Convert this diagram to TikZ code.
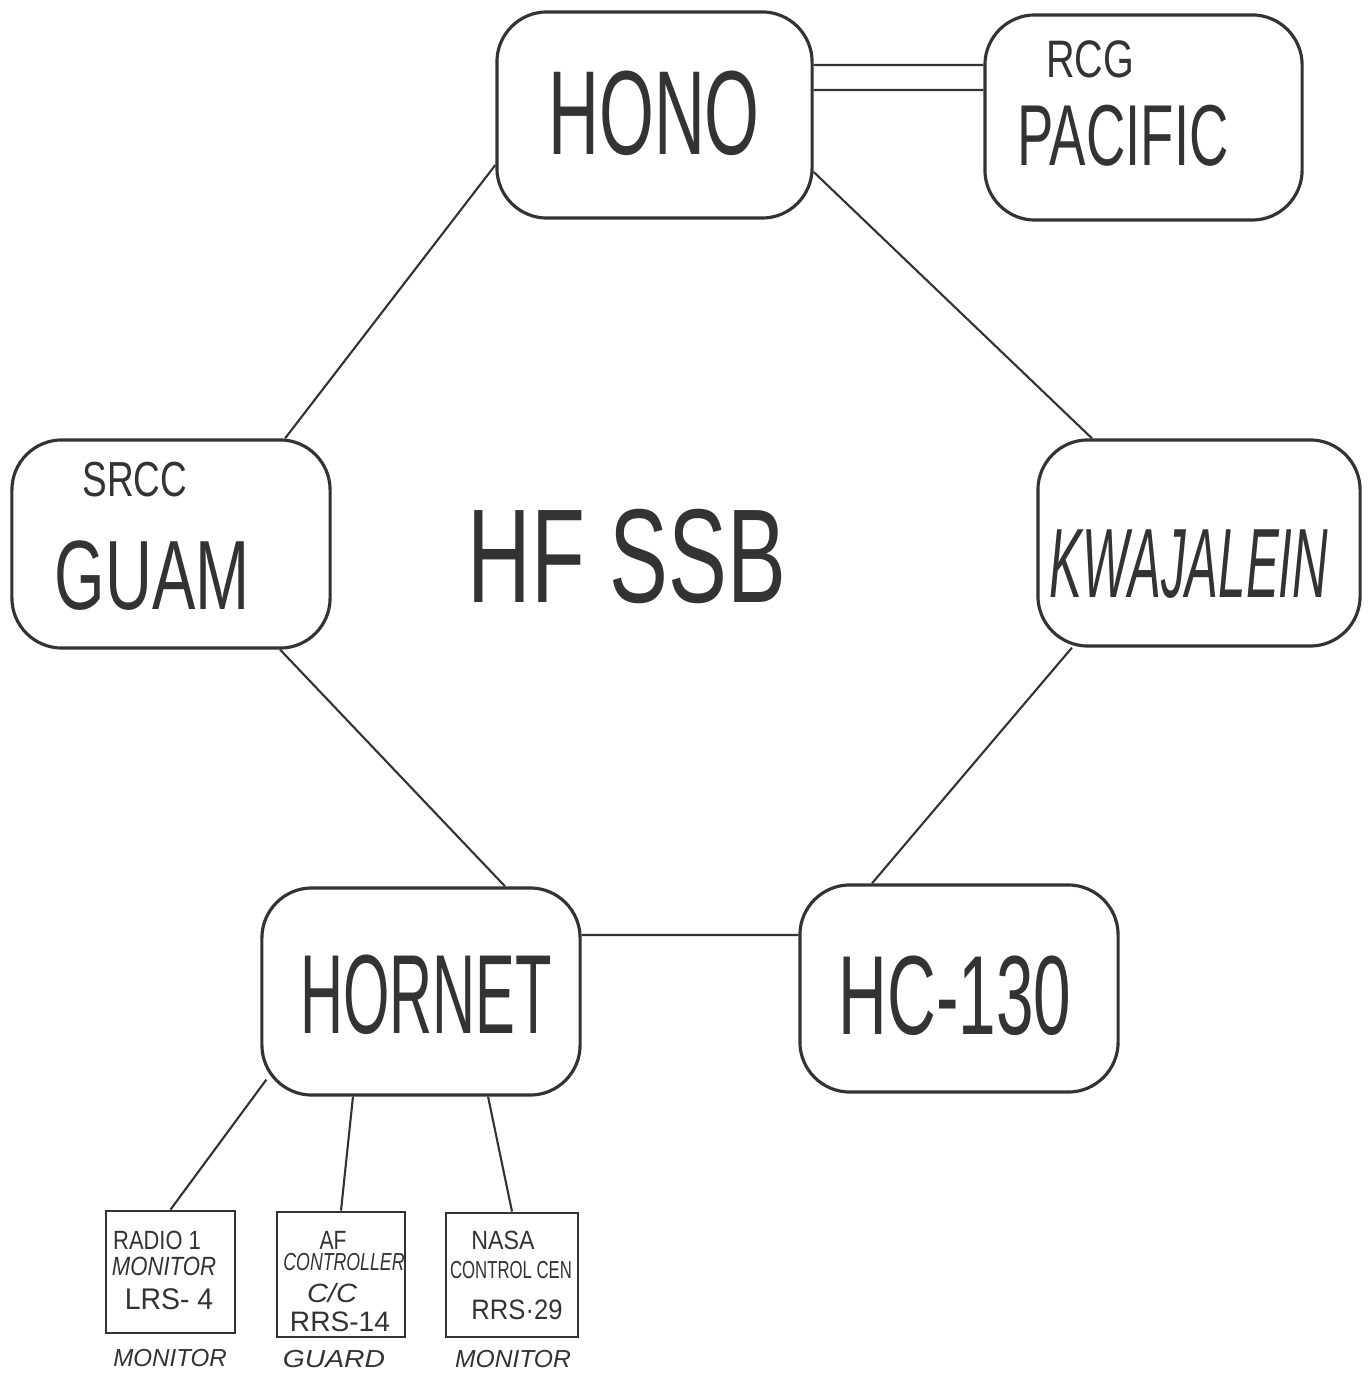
\documentclass[tikz,border=0pt]{standalone}
\usepackage{fontspec}
\usepackage{graphicx}
\setmainfont{Liberation Sans}
\definecolor{ink}{HTML}{333333}
\newcommand\hw[3]{\scalebox{#1}[1]{\fontsize{#2}{#2}\selectfont #3}}
\newcommand\hwi[3]{\scalebox{#1}[1]{\fontsize{#2}{#2}\selectfont\itshape #3}}
\begin{document}
\begin{tikzpicture}[x=0.01cm,y=-0.01cm,
  station/.style={draw=ink,line width=0.9pt,rounded corners=0.5cm,inner sep=0pt},
  unit/.style={draw=ink,line width=0.8pt,inner sep=0pt},
  link/.style={draw=ink,line width=0.6pt},
  txt/.style={inner sep=0pt,text=ink}]
\useasboundingbox[fill=white] (0,0) rectangle (1371,1374);
% stations
\node[station,minimum width=3.15cm,minimum height=2.06cm] (hono) at (654.5,115) {};
\node[station,minimum width=3.17cm,minimum height=2.05cm] (rcg) at (1143.5,117.5) {};
\node[station,minimum width=3.18cm,minimum height=2.08cm] (guam) at (171,544) {};
\node[station,minimum width=3.22cm,minimum height=2.06cm] (kwaj) at (1199,543) {};
\node[station,minimum width=3.18cm,minimum height=2.07cm] (hornet) at (421,991.5) {};
\node[station,minimum width=3.18cm,minimum height=2.07cm] (hc) at (959,988.5) {};
% units
\node[unit,minimum width=1.29cm,minimum height=1.22cm] (radio) at (170.5,1272) {};
\node[unit,minimum width=1.28cm,minimum height=1.25cm] (af) at (341,1274.5) {};
\node[unit,minimum width=1.32cm,minimum height=1.24cm] (nasa) at (512,1275) {};
% station texts
\node[txt] (t-hono) at (654,113) {\hw{0.59}{34}{HONO}};
\node[txt] (t-rcg) at (1090,59) {\hw{0.75}{15}{RCG}};
\node[txt] (t-pac) at (1123,136) {\hw{0.63}{24.6}{PACIFIC}};
\node[txt] (t-srcc) at (135,480) {\hw{0.75}{14}{SRCC}};
\node[txt] (t-guam) at (152,576) {\hw{0.66}{28}{GUAM}};
\node[txt] (t-kwaj) at (1189,564) {\hwi{0.5}{28}{KWAJALEIN}};
\node[txt] (t-hf) at (627,557) {\hw{0.66}{38}{HF SSB}};
\node[txt] (t-hornet) at (426,995) {\hw{0.53}{32}{HORNET}};
\node[txt] (t-hc) at (955,996) {\hw{0.6}{32}{HC-130}};
% unit texts
\node[txt] (r1) at (157,1240) {\hw{0.83}{7.5}{RADIO 1}};
\node[txt] (r2) at (164,1266) {\hwi{0.84}{7.5}{MONITOR}};
\node[txt] (r3) at (169,1299) {\hw{0.95}{8.5}{LRS- 4}};
\node[txt] (a1) at (333,1240) {\hw{0.8}{7.5}{AF}};
\node[txt] (a2) at (344,1262) {\hwi{0.72}{7}{CONTROLLER}};
\node[txt] (a3) at (332,1293) {\hwi{1.1}{7.5}{C/C}};
\node[txt] (a4) at (340,1322) {\hw{1.0}{8}{RRS-14}};
\node[txt] (n1) at (503,1240) {\hw{0.88}{7.5}{NASA}};
\node[txt] (n2) at (511,1270) {\hw{0.68}{7}{CONTROL CEN}};
\node[txt] (n3) at (517,1310) {\hw{0.91}{8}{RRS·29}};
% role labels
\node[txt] (l1) at (170,1358) {\hwi{0.98}{7}{MONITOR}};
\node[txt] (l2) at (334,1359) {\hwi{1.15}{7}{GUARD}};
\node[txt] (l3) at (513,1359) {\hwi{1.0}{7}{MONITOR}};
% connectors
\draw[link] ([yshift=0.5cm]hono.east) -- ([yshift=0.525cm]rcg.west);
\draw[link] ([yshift=0.25cm]hono.east) -- ([yshift=0.275cm]rcg.west);
\draw[link] ([yshift=-0.5cm]hono.west) -- ([xshift=1.14cm]guam.north);
\draw[link] ([yshift=-0.57cm]hono.east) -- ([xshift=-1.07cm]kwaj.north);
\draw[link] ([xshift=1.09cm]guam.south) -- ([xshift=0.84cm]hornet.north);
\draw[link] ([xshift=-1.27cm]kwaj.south) -- ([xshift=-0.87cm]hc.north);
\draw[link] ([yshift=0.565cm]hornet.east) -- ([yshift=0.535cm]hc.west);
\draw[link] ([xshift=0.06cm,yshift=0.17cm]hornet.south west) -- (radio.north);
\draw[link] ([xshift=-0.68cm]hornet.south) -- (af.north);
\draw[link] ([xshift=0.67cm]hornet.south) -- (nasa.north);
\end{tikzpicture}
\end{document}
